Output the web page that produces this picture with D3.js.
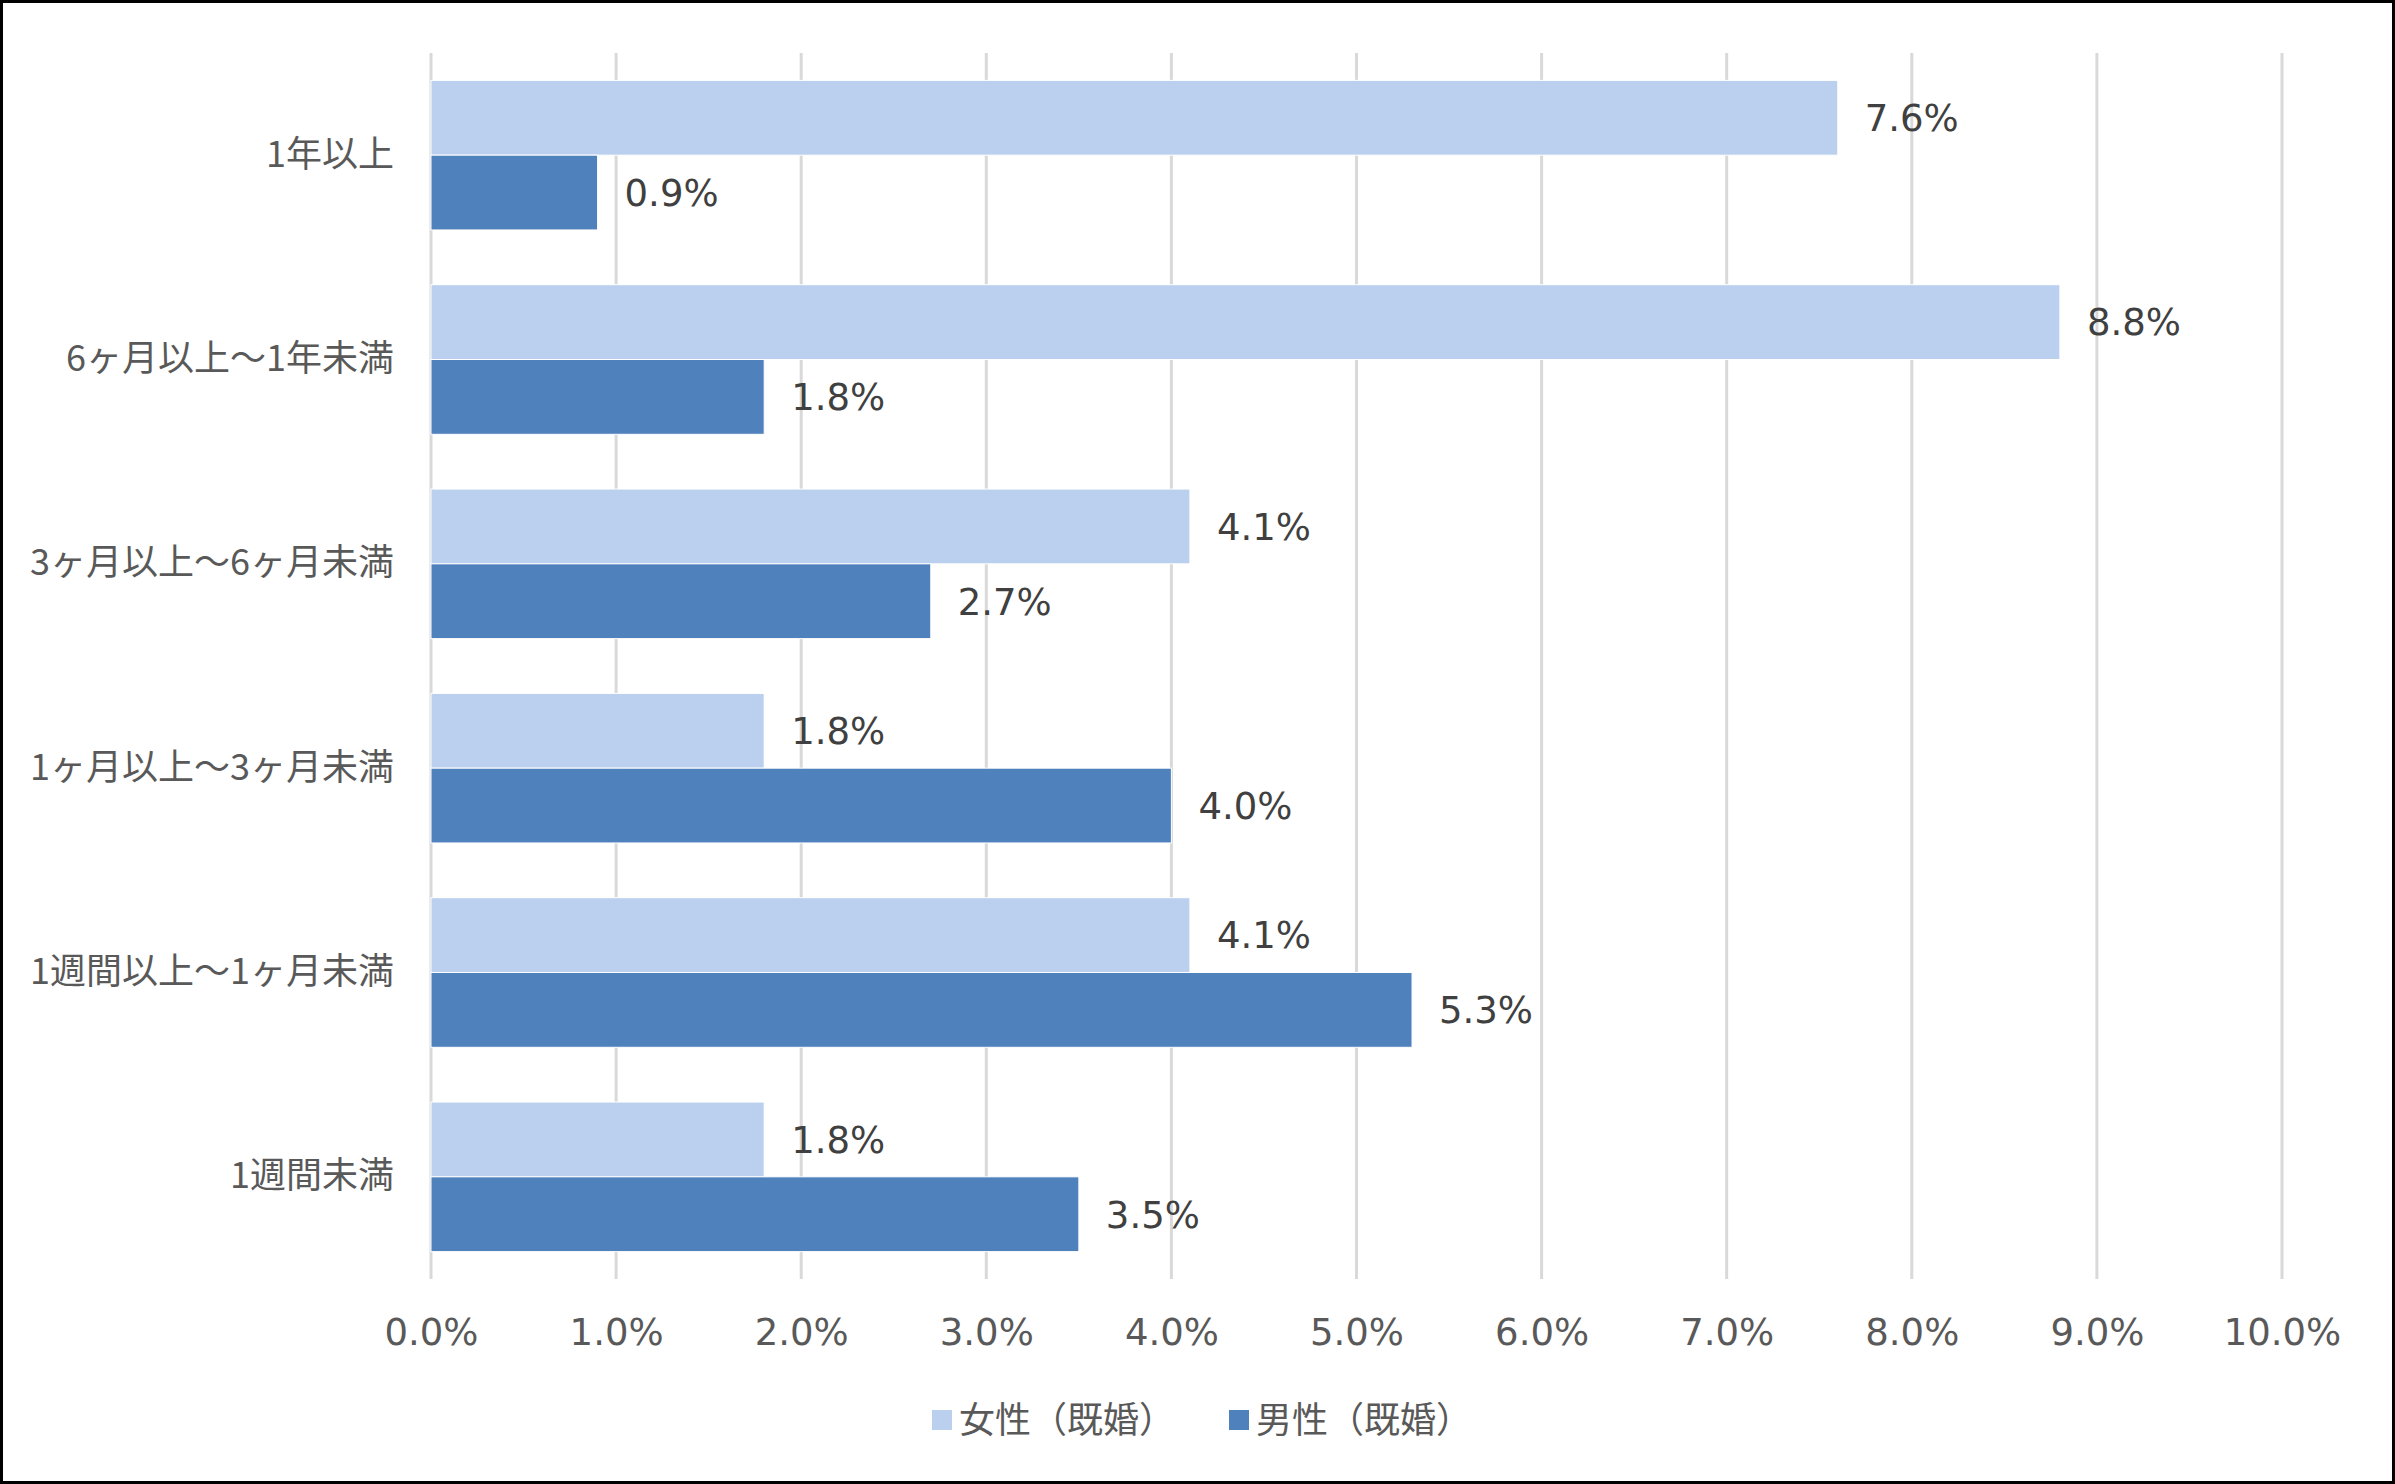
<!DOCTYPE html>
<html><head><meta charset="utf-8">
<script src="https://cdn.jsdelivr.net/npm/d3@7"></script>
<style>
html,body{margin:0;padding:0;background:#fff;}
svg{display:block;}
text{font-family:"Noto Sans CJK JP","Noto Sans",sans-serif;}
</style></head>
<body>
<script>
const categories = ["1年以上","6ヶ月以上～1年未満","3ヶ月以上～6ヶ月未満","1ヶ月以上～3ヶ月未満","1週間以上～1ヶ月未満","1週間未満"];
const seriesNames = ["女性（既婚）","男性（既婚）"];
const female = [7.6, 8.8, 4.1, 1.8, 4.1, 1.8];
const male = [0.9, 1.8, 2.7, 4.0, 5.3, 3.5];
const tickValues = [0,1,2,3,4,5,6,7,8,9,10];
const colors = ["#BAD0EE","#4F81BD"];

(function(){
const W = 2395, H = 1484;
const numFont = '"DejaVu Sans",sans-serif';
const jpFont = '"Noto Sans CJK JP",sans-serif';
const svg = d3.select("body").append("svg").attr("width", W).attr("height", H);
svg.append("rect").attr("x",1.5).attr("y",1.5).attr("width",W-3).attr("height",H-3)
  .attr("fill","#fff").attr("stroke","#000").attr("stroke-width",3);

const pLeft = 431, pRight = 2282, pTop = 53, pBottom = 1279;
const x = d3.scaleLinear().domain([0,10]).range([pLeft,pRight]);
const y = d3.scaleBand().domain(categories).range([pTop,pBottom]).paddingInner(0.268).paddingOuter(0.134);
const ys = d3.scaleBand().domain([0,1]).range([0,y.bandwidth()]);

svg.append("g").selectAll("line").data(tickValues).join("line")
  .attr("x1",d=>x(d)).attr("x2",d=>x(d)).attr("y1",pTop).attr("y2",pBottom)
  .attr("stroke","#D9D9D9").attr("stroke-width",3);

const data = categories.map((c,i)=>({cat:c, vals:[female[i], male[i]]}));
const g = svg.append("g");
data.forEach(d=>{
  d.vals.forEach((v,j)=>{
    const yy = y(d.cat)+ys(j);
    g.append("rect").attr("x",x(0)).attr("y",yy).attr("width",x(v)-x(0)).attr("height",ys.bandwidth())
      .attr("fill",colors[j]).attr("stroke","#fff").attr("stroke-width",1);
    g.append("text").attr("x",x(v)+27).attr("y",yy+ys.bandwidth()/2).attr("dy","0.36em")
      .attr("font-size",37).attr("fill","#404040").style("font-family",numFont).text(v.toFixed(1)+"%");
  });
});

const ay = d3.axisLeft(y).tickSize(0).tickPadding(0);
const gy = svg.append("g").attr("transform",`translate(${394},0)`).call(ay);
gy.select(".domain").remove();
gy.selectAll("text").attr("font-size",36).attr("fill","#595959").style("font-family",jpFont);

const ax = d3.axisBottom(x).tickValues(tickValues).tickSize(0).tickPadding(0).tickFormat(d=>d.toFixed(1)+"%");
const gx = svg.append("g").attr("transform",`translate(0,${1332})`).call(ax);
gx.select(".domain").remove();
gx.selectAll("text").attr("dy","0.36em").attr("y",0).attr("font-size",37).attr("fill","#595959")
  .style("font-family",numFont);

const legX = [932, 1229];
const lg = svg.append("g");
seriesNames.forEach((n,i)=>{
  lg.append("rect").attr("x",legX[i]).attr("y",1410).attr("width",20).attr("height",20).attr("fill",colors[i]);
  lg.append("text").attr("x",legX[i]+27).attr("y",1420).attr("dy","0.36em").attr("font-size",36)
    .attr("fill","#595959").style("font-family",jpFont).text(n);
});
})();
</script>
</body></html>
